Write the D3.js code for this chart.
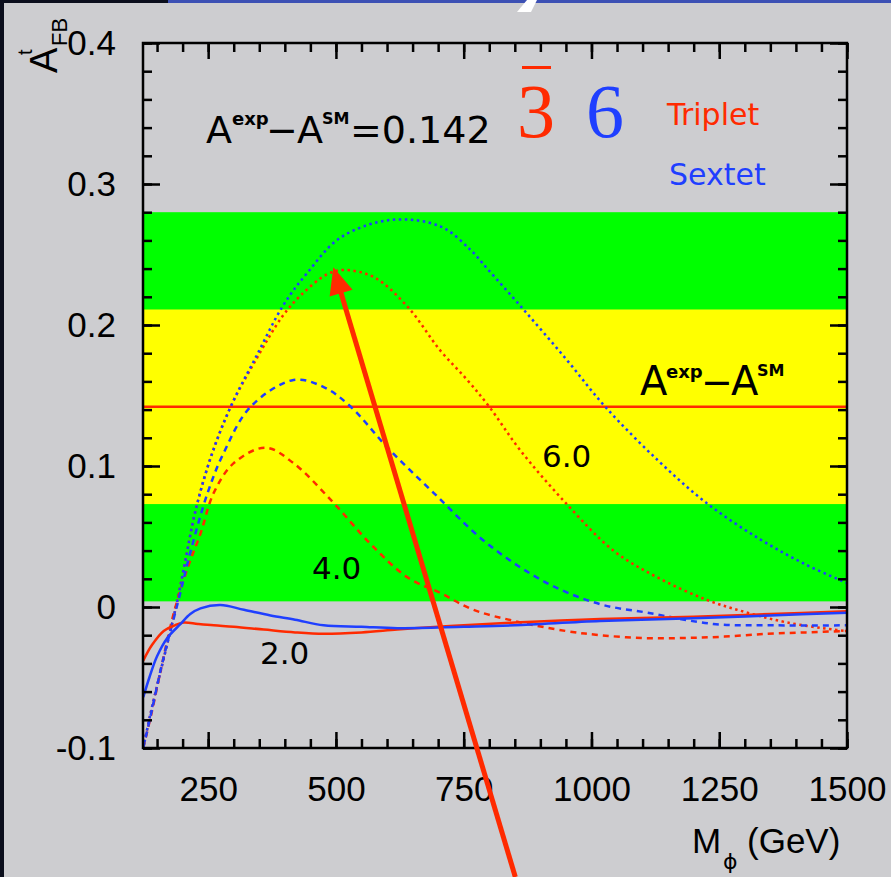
<!DOCTYPE html>
<html>
<head>
<meta charset="utf-8">
<script src="https://cdn.jsdelivr.net/npm/d3@7"></script>
<style>
  html, body { margin: 0; padding: 0; background: #cdcdd0; }
  svg { display: block; }
</style>
</head>
<body>
<svg id="chart" width="891" height="877"></svg>
<script>
// ---------------- DATA ----------------
const xMajorTicks = [250, 500, 750, 1000, 1250, 1500];
const xTickLabels = ["250", "500", "750", "1000", "1250", "1500"];
const yMajorTicks = [-0.1, 0, 0.1, 0.2, 0.3, 0.4];
const yTickLabels = ["-0.1", "0", "0.1", "0.2", "0.3", "0.4"];

// measured value and uncertainty bands
const expMinusSM = 0.142;
const band1sigma = [0.073, 0.211];
const band2sigma = [0.004, 0.280];

// Triplet (red) and Sextet (blue), couplings 2.0 (solid), 4.0 (dashed), 6.0 (dotted)
const tripletSolidM = [123,140,163,185,202,230,261,300,359,420,476,550,620,700,750,850,1017,1200,1350,1500];
const tripletSolidA = [-0.038,-0.027,-0.017,-0.013,-0.011,-0.012,-0.013,-0.014,-0.016,-0.018,-0.019,-0.018,-0.016,-0.014,-0.013,-0.011,-0.0085,-0.007,-0.005,-0.003];

const sextetSolidM = [123,135,150,170,196,215,235,274,320,372,420,476,550,620,750,850,1017,1200,1350,1500];
const sextetSolidA = [-0.064,-0.050,-0.035,-0.022,-0.012,-0.005,-0.001,0.0014,-0.002,-0.006,-0.009,-0.013,-0.014,-0.015,-0.014,-0.013,-0.010,-0.008,-0.006,-0.004];

const tripletDashedM = [123,140,160,183,210,235,261,300,362,417,495,567,640,704,769,850,950,1017,1100,1180,1260,1344,1420,1500];
const tripletDashedA = [-0.100,-0.074,-0.040,-0.004,0.028,0.052,0.081,0.102,0.113,0.102,0.074,0.045,0.021,0.010,-0.002,-0.010,-0.017,-0.020,-0.022,-0.022,-0.021,-0.019,-0.018,-0.017];

const sextetDashedM = [123,140,160,192,216,249,280,333,417,476,529,601,691,796,913,1017,1109,1238,1360,1500];
const sextetDashedA = [-0.100,-0.073,-0.040,0.005,0.040,0.081,0.109,0.142,0.161,0.156,0.142,0.113,0.081,0.045,0.017,0.002,-0.004,-0.012,-0.013,-0.013];

const tripletDottedM = [123,137,156,176,190,206,225,255,294,343,395,431,483,515,574,640,704,757,800,861,949,1043,1129,1226,1305,1383,1473,1500];
const tripletDottedA = [-0.100,-0.076,-0.047,-0.017,0.005,0.034,0.068,0.106,0.142,0.175,0.206,0.221,0.236,0.239,0.234,0.213,0.182,0.161,0.142,0.111,0.074,0.040,0.021,0.005,-0.004,-0.011,-0.016,-0.017];

const sextetDottedM = [123,137,156,176,190,206,225,255,294,343,397,444,509,607,704,764,796,867,950,1027,1130,1226,1330,1420,1500];
const sextetDottedA = [-0.100,-0.076,-0.047,-0.017,0.005,0.034,0.068,0.106,0.142,0.177,0.214,0.237,0.262,0.2745,0.270,0.253,0.240,0.211,0.176,0.142,0.104,0.0735,0.048,0.030,0.017];

// arrow annotation (data coordinates)
const arrowTip = [495, 0.241];
const arrowTail = [851, -0.1915];

// ---------------- CHART ----------------
const RED = "#ff2a00", BLUE = "#1f3fff", GREEN = "#00ff00", YELLOW = "#ffff00";
const svg = d3.select("#chart");
svg.append("rect").attr("width", 891).attr("height", 877).attr("fill", "#cdcdd0");
// slide frame bits
svg.append("rect").attr("x", 0).attr("y", 0).attr("width", 4).attr("height", 877).attr("fill", "#0b0e1c");
svg.append("rect").attr("x", 0).attr("y", 0).attr("width", 170).attr("height", 3).attr("fill", "#0b0e1c");
svg.append("rect").attr("x", 168).attr("y", 0).attr("width", 723).attr("height", 3).attr("fill", "#3c50b4");
svg.append("polygon").attr("points", "527,0 537,0 531,12 517,12").attr("fill", "#ffffff");

const L = 143, R = 847, T = 43, B = 748;
const x = d3.scaleLinear().domain([122.5, 1500]).range([L, R]);
const y = d3.scaleLinear().domain([-0.1, 0.4]).range([B, T]);

// bands
svg.append("rect").attr("x", L).attr("width", R - L)
  .attr("y", y(band2sigma[1])).attr("height", y(band2sigma[0]) - y(band2sigma[1])).attr("fill", GREEN);
svg.append("rect").attr("x", L).attr("width", R - L)
  .attr("y", y(band1sigma[1])).attr("height", y(band1sigma[0]) - y(band1sigma[1])).attr("fill", YELLOW);
svg.append("line").attr("x1", L).attr("x2", R).attr("y1", y(expMinusSM)).attr("y2", y(expMinusSM))
  .attr("stroke", RED).attr("stroke-width", 2.5);

// curves
svg.append("clipPath").attr("id", "clip").append("rect")
  .attr("x", L).attr("y", T).attr("width", R - L).attr("height", B - T);
const line = d3.line().x(d => x(d[0])).y(d => y(d[1])).curve(d3.curveCatmullRom.alpha(0.5));
const series = [
  {m: tripletDottedM, a: tripletDottedA, c: RED, dash: "2.5,3.5", w: 2.5},
  {m: sextetDottedM, a: sextetDottedA, c: BLUE, dash: "2.5,3.5", w: 2.5},
  {m: tripletDashedM, a: tripletDashedA, c: RED, dash: "6,5", w: 2.5},
  {m: sextetDashedM, a: sextetDashedA, c: BLUE, dash: "6,5", w: 2.5},
  {m: tripletSolidM, a: tripletSolidA, c: RED, dash: null, w: 2.5},
  {m: sextetSolidM, a: sextetSolidA, c: BLUE, dash: null, w: 2.5},
];
const cg = svg.append("g").attr("clip-path", "url(#clip)");
series.forEach(s => {
  cg.append("path").datum(s.m.map((v, i) => [v, s.a[i]]))
    .attr("d", line).attr("fill", "none").attr("stroke", s.c)
    .attr("stroke-width", s.w).attr("stroke-dasharray", s.dash);
});

// axes / frame
const xMinor = d3.range(150, 1501, 50);
const yMinor = d3.range(-0.1, 0.4001, 0.02);
function styleAxis(g) {
  g.select(".domain").remove();
  g.selectAll(".tick line").attr("stroke", "#000").attr("stroke-width", 2.5);
}
svg.append("g").attr("transform", `translate(0,${B})`).call(d3.axisTop(x).tickValues(xMinor).tickSize(9).tickFormat("")).call(styleAxis);
svg.append("g").attr("transform", `translate(0,${B})`).call(d3.axisTop(x).tickValues(xMajorTicks).tickSize(16).tickFormat("")).call(styleAxis);
svg.append("g").attr("transform", `translate(0,${T})`).call(d3.axisBottom(x).tickValues(xMinor).tickSize(9).tickFormat("")).call(styleAxis);
svg.append("g").attr("transform", `translate(0,${T})`).call(d3.axisBottom(x).tickValues(xMajorTicks).tickSize(16).tickFormat("")).call(styleAxis);
svg.append("g").attr("transform", `translate(${L},0)`).call(d3.axisRight(y).tickValues(yMinor).tickSize(9).tickFormat("")).call(styleAxis);
svg.append("g").attr("transform", `translate(${L},0)`).call(d3.axisRight(y).tickValues(yMajorTicks).tickSize(17).tickFormat("")).call(styleAxis);
svg.append("g").attr("transform", `translate(${R},0)`).call(d3.axisLeft(y).tickValues(yMinor).tickSize(9).tickFormat("")).call(styleAxis);
svg.append("g").attr("transform", `translate(${R},0)`).call(d3.axisLeft(y).tickValues(yMajorTicks).tickSize(17).tickFormat("")).call(styleAxis);
svg.append("rect").attr("x", L).attr("y", T).attr("width", R - L).attr("height", B - T)
  .attr("fill", "none").attr("stroke", "#000").attr("stroke-width", 2.5);

// tick labels
const xl = svg.append("g").attr("transform", `translate(0,${B})`)
  .call(d3.axisBottom(x).tickValues(xMajorTicks).tickSize(0).tickPadding(28)
    .tickFormat((d, i) => xTickLabels[i]));
xl.select(".domain").remove();
xl.selectAll("text").attr("font-family", "Liberation Sans, Arial, sans-serif").attr("font-size", 35).attr("fill", "#000");
const yl = svg.append("g").attr("transform", `translate(${L},0)`)
  .call(d3.axisLeft(y).tickValues(yMajorTicks).tickSize(0).tickPadding(27)
    .tickFormat((d, i) => yTickLabels[i]));
yl.select(".domain").remove();
yl.selectAll("text").attr("font-family", "Liberation Sans, Arial, sans-serif").attr("font-size", 35).attr("fill", "#000");

// axis titles
const ya = svg.append("g").attr("transform", "translate(57,73) rotate(-90)")
  .attr("font-family", "Liberation Sans, Arial, sans-serif").attr("fill", "#000");
ya.append("text").attr("x", 0).attr("y", 0).attr("font-size", 38).text("A");
ya.append("text").attr("x", 18).attr("y", -25).attr("font-size", 20).text("t");
ya.append("text").attr("x", 27).attr("y", 10).attr("font-size", 22).text("FB");

const xa = svg.append("g").attr("font-family", "Liberation Sans, Arial, sans-serif").attr("fill", "#000");
xa.append("text").attr("x", 692).attr("y", 853).attr("font-size", 35).text("M");
xa.append("text").attr("x", 723).attr("y", 869).attr("font-size", 22).attr("font-family", "DejaVu Sans, sans-serif").text("ϕ");
xa.append("text").attr("x", 747).attr("y", 853).attr("font-size", 35).text("(GeV)");

// annotations
const GEO = "DejaVu Sans, Verdana, sans-serif";
const topNote = svg.append("text").attr("font-family", GEO).attr("fill", "#000");
topNote.append("tspan").attr("x", 206).attr("y", 143).attr("font-size", 38).text("A");
topNote.append("tspan").attr("x", 232).attr("y", 125).attr("font-size", 18).attr("font-weight", "bold").text("exp");
topNote.append("tspan").attr("x", 266).attr("y", 143).attr("font-size", 38).text("−");
topNote.append("tspan").attr("x", 297).attr("y", 143).attr("font-size", 38).text("A");
topNote.append("tspan").attr("x", 322).attr("y", 124).attr("font-size", 16).attr("font-weight", "bold").text("SM");
topNote.append("tspan").attr("x", 350).attr("y", 143).attr("font-size", 38).text("=0.142");

const midNote = svg.append("text").attr("font-family", GEO).attr("fill", "#000");
midNote.append("tspan").attr("x", 640).attr("y", 395).attr("font-size", 40).text("A");
midNote.append("tspan").attr("x", 666).attr("y", 378).attr("font-size", 18).attr("font-weight", "bold").text("exp");
midNote.append("tspan").attr("x", 701).attr("y", 395).attr("font-size", 38).text("−");
midNote.append("tspan").attr("x", 731).attr("y", 395).attr("font-size", 40).text("A");
midNote.append("tspan").attr("x", 757).attr("y", 376).attr("font-size", 16).attr("font-weight", "bold").text("SM");

svg.append("text").attr("x", 667).attr("y", 125).attr("font-family", GEO).attr("font-size", 30).attr("fill", RED).text("Triplet");
svg.append("text").attr("x", 669).attr("y", 185).attr("font-family", GEO).attr("font-size", 30).attr("fill", BLUE).text("Sextet");

const labels = [["6.0", 542, 467], ["4.0", 312, 579], ["2.0", 260, 664]];
labels.forEach(l => svg.append("text").attr("x", l[1]).attr("y", l[2]).attr("font-family", GEO)
  .attr("font-size", 31).attr("fill", "#000").text(l[0]));

svg.append("text").attr("x", 536).attr("y", 137).attr("text-anchor", "middle")
  .attr("font-family", "Liberation Serif, Times New Roman, serif").attr("font-size", 76).attr("fill", RED).text("3");
svg.append("line").attr("x1", 522).attr("x2", 551).attr("y1", 67.5).attr("y2", 67.5).attr("stroke", RED).attr("stroke-width", 3);
svg.append("text").attr("x", 605).attr("y", 137).attr("text-anchor", "middle")
  .attr("font-family", "Liberation Serif, Times New Roman, serif").attr("font-size", 76).attr("fill", BLUE).text("6");

// arrow
const tip = [x(arrowTip[0]), y(arrowTip[1])], tail = [x(arrowTail[0]), y(arrowTail[1])];
const dx = tip[0] - tail[0], dy = tip[1] - tail[1], len = Math.hypot(dx, dy);
const ux = dx / len, uy = dy / len, nx = -uy, ny = ux;
const hl = 27, hw = 12;
const base = [tip[0] - hl * ux, tip[1] - hl * uy];
svg.append("line").attr("x1", tail[0]).attr("y1", tail[1]).attr("x2", base[0] + 4 * ux).attr("y2", base[1] + 4 * uy)
  .attr("stroke", RED).attr("stroke-width", 5);
svg.append("polygon").attr("points", [
  tip, [base[0] + hw * nx, base[1] + hw * ny], [base[0] - hw * nx, base[1] - hw * ny]
].map(p => p.join(",")).join(" ")).attr("fill", RED);
</script>
</body>
</html>
